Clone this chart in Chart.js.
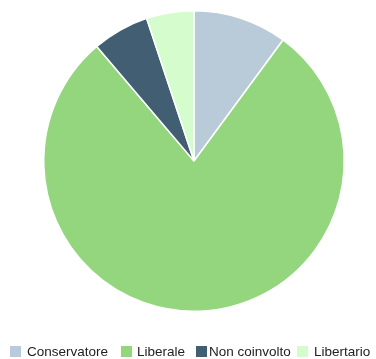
<!DOCTYPE html>
<html>
<head>
<meta charset="utf-8">
<script src="https://cdn.jsdelivr.net/npm/chart.js@4"></script>
<style>
  html, body { margin: 0; padding: 0; background: #fff; }
  #wrap { position: relative; width: 376px; height: 359px; }
  #legenda {
    position: absolute; left: 0; top: 344px; width: 376px; height: 16px;
    font-family: 'Liberation Sans', Arial, sans-serif; font-size: 13.5px; color: #222;
  }
  .voce { position: absolute; top: 0; display: flex; align-items: center; white-space: nowrap; }
  .quadro { width: 11px; height: 11px; margin-right: 6px; }
  .voce:nth-child(1) { left: 10px; }
  .voce:nth-child(2) { left: 121px; }
  .voce:nth-child(2) .quadro { margin-right: 5px; }
  .voce:nth-child(3) { left: 196px; }
  .voce:nth-child(3) .quadro { margin-right: 2px; }
  .voce:nth-child(4) { left: 297px; }
</style>
</head>
<body>
<div id="wrap">
  <canvas id="torta"></canvas>
  <div id="legenda"></div>
</div>
<script>
// quote per orientamento (percentuali)
var categorie = ['Conservatore', 'Liberale', 'Non coinvolto', 'Libertario'];
var valori = [10.1, 78.7, 6.1, 5.1];
var colori = ['#b9cbd8', '#93d67e', '#425e73', '#d5fccd'];

var ctx = document.getElementById('torta').getContext('2d');
window.myChart = new Chart(ctx, {
  type: 'pie',
  data: {
    labels: categorie,
    datasets: [{
      data: valori,
      backgroundColor: colori,
      borderColor: '#ffffff',
      borderWidth: 1.5
    }]
  },
  options: {
    responsive: true,
    maintainAspectRatio: false,
    animation: false,
    layout: { padding: { top: 10, bottom: 47, left: 12, right: 0 } },
    plugins: {
      tooltip: { enabled: false },
      legend: { display: false }
    }
  }
});

// legenda sotto il grafico
var legenda = document.getElementById('legenda');
categorie.forEach(function(nome, i) {
  var voce = document.createElement('span');
  voce.className = 'voce';
  var quadro = document.createElement('span');
  quadro.className = 'quadro';
  quadro.style.background = colori[i];
  var testo = document.createElement('span');
  testo.textContent = nome;
  voce.appendChild(quadro);
  voce.appendChild(testo);
  legenda.appendChild(voce);
});
</script>
</body>
</html>
